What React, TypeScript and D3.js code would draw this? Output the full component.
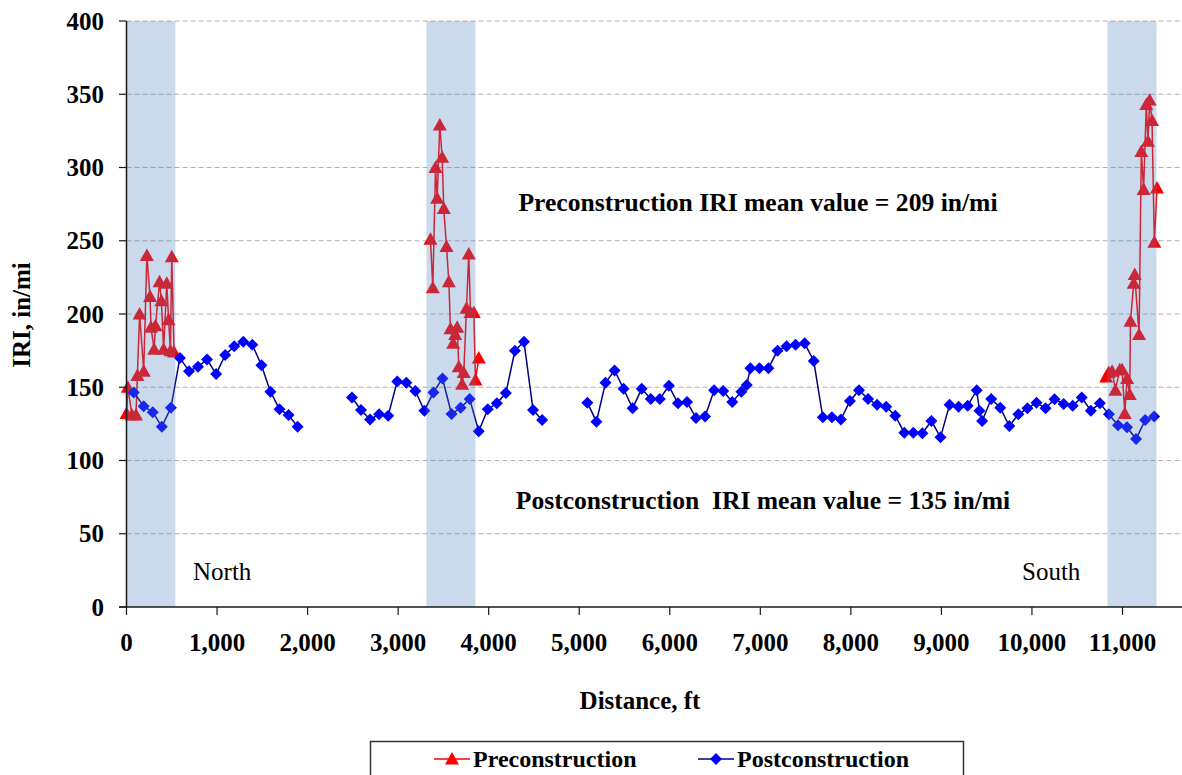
import * as d3 from 'd3';

// Preconstruction (red triangles), gaps between the three sections as null
const preDist = [
  0, 15, 60, 105, 120, 145, 190, 225, 260, 270, 305, 320, 365, 385, 410, 445, 465, 485, 500, 525,
  1900,
  3357, 3383, 3413, 3431, 3460, 3486, 3504, 3534, 3560, 3578, 3608, 3630, 3652, 3670, 3707, 3725, 3755, 3780, 3799, 3836, 3854, 3891,
  7000,
  10820, 10848, 10885, 10922, 10970, 10996, 11025, 11051, 11080, 11088, 11124, 11135, 11183, 11208, 11233, 11263, 11281, 11300, 11326, 11352, 11381,
];
const preIri = [
  132, 150, 131, 131, 158, 200, 161, 240, 212, 191, 176, 192, 222, 209, 176, 221, 196, 175, 239, 174,
  null,
  251, 218, 300, 279, 329, 307, 272, 246, 222, 190, 180, 186, 191, 164, 152, 160, 204, 241, 201, 201, 155, 170,
  null,
  157, 160, 161, 148, 162, 162, 132, 156, 145, 195, 221, 227, 186, 311, 285, 343, 318, 346, 332, 249, 286,
];

// Postconstruction (blue diamonds)
const postDist = [
  80, 190, 290, 390, 490, 590, 690, 790, 890, 990, 1090, 1190, 1290, 1390, 1490, 1590, 1690, 1790, 1890,
  2190,
  2490, 2590, 2690, 2790, 2890, 2990, 3090, 3190, 3290, 3390, 3490, 3590, 3690, 3790, 3890, 3990, 4090, 4190, 4290, 4390, 4490, 4590,
  4840,
  5090, 5190, 5290, 5390, 5490, 5590, 5690, 5790, 5890, 5990, 6090, 6190, 6290, 6390, 6490, 6590, 6690, 6790,
  6850,
  6890, 6990, 7090, 7190, 7290, 7390, 7490, 7590, 7690, 7790, 7890, 7990,
  8090, 8190, 8290, 8390, 8490, 8590, 8690, 8790, 8890, 8990, 9090, 9190, 9290, 9390,
  9420, 9450,
  9550, 9650, 9750, 9850, 9950, 10050, 10150, 10250, 10350, 10450, 10550, 10650, 10750, 10850, 10950, 11050, 11150, 11250, 11350,
];
const postIri = [
  146.5, 137, 133, 123, 136, 170, 161, 164, 169, 159, 172, 178, 181, 179, 165, 147, 135, 131, 123,
  null,
  143, 134.5, 128, 131.5, 130.6, 154, 153, 147.4, 134, 146.5, 156, 131.7, 136, 142, 120, 135, 139, 146, 175, 181, 134.5, 127.6,
  null,
  139.5, 126.5, 153, 161.5, 149, 135.6, 149, 142, 142, 151, 139, 140, 129, 130, 148, 147.4, 140, 147,
  151.5,
  163, 163, 163, 175, 178, 179, 180, 168, 129.5, 129.5, 128, 140.6,
  148, 142, 138, 136.7, 130.6, 119, 119, 118.6, 127, 115.8, 138, 136.7, 137.4, 148,
  134, 127,
  142, 136, 123.5, 131.5, 135.6, 139.5, 135.6, 141.8, 138.6, 137.4, 143, 134, 139, 131.5, 124, 122.7, 114.7, 127.6, 130,
];

// shaded construction zones [start, end] in ft
const bands = [
  [0, 540],
  [3313, 3854],
  [10834, 11375],
];

const yTicks = [0, 50, 100, 150, 200, 250, 300, 350, 400];
const xTicks = [0, 1000, 2000, 3000, 4000, 5000, 6000, 7000, 8000, 9000, 10000, 11000];

const seriesNames = ['Preconstruction', 'Postconstruction'];
const preMean = 209;
const postMean = 135;

const W = 1182;
const H = 775;
const FONT = "'Liberation Serif', Tinos, 'Times New Roman', Times, 'DejaVu Serif', serif";

const x = d3.scaleLinear().domain([0, 11000]).range([126.5, 1122.5]);
const y = d3.scaleLinear().domain([0, 400]).range([607, 21]);
const plotRight = W;

type Pt = { d: number; v: number | null };
const pre: Pt[] = preDist.map((d, i) => ({ d, v: preIri[i] }));
const post: Pt[] = postDist.map((d, i) => ({ d, v: postIri[i] }));

const line = d3
  .line<Pt>()
  .defined((p) => p.v != null)
  .x((p) => x(p.d))
  .y((p) => y(p.v as number));

const triangle = 'M0,-7L7,5.5L-7,5.5Z';
const diamond = 'M0,-6L6,0L0,6L-6,0Z';

const RED = '#ff0000';
const BLUE = '#0000ff';
const NAVY = '#000080';

const txt = { fontFamily: FONT };

export default function App() {
  return (
    <svg
      width={W}
      height={H}
      style={{ position: 'absolute', left: 0, top: 0, background: '#fff', fontFamily: FONT }}
    >
      {/* gridlines */}
      {yTicks
        .filter((t) => t > 0)
        .map((t) => (
          <line
            key={t}
            x1={x(0)}
            x2={plotRight}
            y1={y(t)}
            y2={y(t)}
            stroke="#b0b0b0"
            strokeDasharray="5,3"
          />
        ))}

      {/* preconstruction */}
      <path d={line(pre) ?? ''} fill="none" stroke={RED} strokeWidth={1.5} />
      {pre
        .filter((p) => p.v != null)
        .map((p, i) => (
          <path
            key={'pre' + i}
            d={triangle}
            transform={`translate(${x(p.d)},${y(p.v as number)})`}
            fill={RED}
          />
        ))}

      {/* postconstruction */}
      <path d={line(post) ?? ''} fill="none" stroke={NAVY} strokeWidth={1.5} />
      {post
        .filter((p) => p.v != null)
        .map((p, i) => (
          <path
            key={'post' + i}
            d={diamond}
            transform={`translate(${x(p.d)},${y(p.v as number)})`}
            fill={BLUE}
          />
        ))}

      {/* translucent construction zones on top of the data */}
      {bands.map(([a, b], i) => (
        <rect
          key={i}
          x={x(a)}
          y={y(400)}
          width={x(b) - x(a)}
          height={y(0) - y(400)}
          fill="rgba(79,129,189,0.3)"
        />
      ))}

      {/* axes */}
      <line x1={x(0)} x2={x(0)} y1={y(400)} y2={y(0)} stroke="#1a1a1a" strokeWidth={1.5} />
      <line x1={119} x2={plotRight} y1={y(0)} y2={y(0)} stroke="#1a1a1a" strokeWidth={1.5} />
      {yTicks.map((t) => (
        <g key={t}>
          <line x1={119} x2={x(0)} y1={y(t)} y2={y(t)} stroke="#1a1a1a" strokeWidth={1.2} />
          <text x={104} y={y(t) + 8.5} textAnchor="end" fontSize={25} fontWeight="bold" style={txt}>
            {t}
          </text>
        </g>
      ))}
      {xTicks.map((t) => (
        <g key={t}>
          <line x1={x(t)} x2={x(t)} y1={y(0)} y2={y(0) + 8} stroke="#1a1a1a" strokeWidth={1.2} />
          <text x={x(t)} y={651} textAnchor="middle" fontSize={25} fontWeight="bold" style={txt}>
            {d3.format(',')(t)}
          </text>
        </g>
      ))}

      <text x={640} y={709} textAnchor="middle" fontSize={25} fontWeight="bold" style={txt}>
        Distance, ft
      </text>
      <text
        transform="translate(30,315) rotate(-90)"
        textAnchor="middle"
        fontSize={25}
        fontWeight="bold"
        style={txt}
      >
        IRI, in/mi
      </text>

      {/* annotations */}
      <text x={758} y={211} textAnchor="middle" fontSize={25.6} fontWeight="bold" style={txt}>
        {`Preconstruction IRI mean value = ${preMean} in/mi`}
      </text>
      <text
        x={763}
        y={509}
        textAnchor="middle"
        fontSize={25.6}
        fontWeight="bold"
        style={{ ...txt, whiteSpace: 'pre' }}
      >
        {`Postconstruction  IRI mean value = ${postMean} in/mi`}
      </text>
      <text x={193} y={580} fontSize={25} style={txt}>
        North
      </text>
      <text x={1022} y={580} fontSize={25} style={txt}>
        South
      </text>

      {/* legend */}
      <rect x={370.5} y={741.5} width={593} height={60} fill="#fff" stroke="#333" strokeWidth={1.5} />
      <line x1={434} x2={470} y1={759} y2={759} stroke={RED} strokeWidth={1.5} />
      <path d={triangle} transform="translate(452,759)" fill={RED} />
      <text x={473} y={767} fontSize={24} fontWeight="bold" style={txt}>
        {seriesNames[0]}
      </text>
      <line x1={698} x2={734} y1={759} y2={759} stroke={NAVY} strokeWidth={1.5} />
      <path d={diamond} transform="translate(716,759)" fill={BLUE} />
      <text x={737} y={767} fontSize={24} fontWeight="bold" style={txt}>
        {seriesNames[1]}
      </text>
    </svg>
  );
}
